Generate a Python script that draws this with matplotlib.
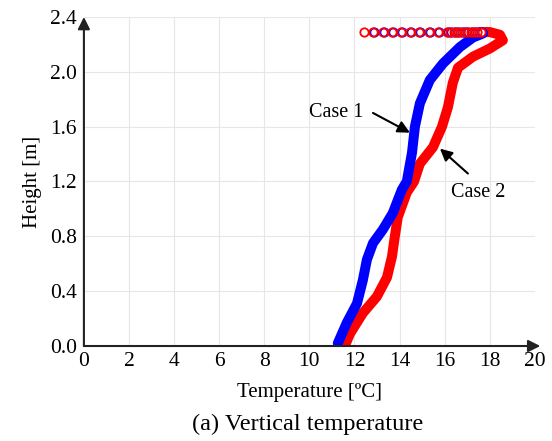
#!/usr/bin/env python3
"""
Vertical temperature profiles, Case 1 vs Case 2.
"""
import matplotlib
matplotlib.use('Agg')
import matplotlib.pyplot as plt

# ------------------------------
# Data
# ------------------------------
case1_T = [11.26, 11.66, 12.11, 12.37, 12.55, 12.82, 13.26, 13.70, 14.10, 14.32,
           14.55, 14.68, 14.9, 15.34, 15.92, 16.67, 17.25, 17.7]
case1_h = [0.02, 0.17, 0.31, 0.48, 0.63, 0.75, 0.85, 0.97, 1.14, 1.20,
           1.41, 1.60, 1.77, 1.94, 2.06, 2.18, 2.25, 2.28]

case2_T = [11.57, 11.8, 12.37, 12.99, 13.44, 13.66, 13.79, 13.92, 14.32, 14.64,
           14.9, 15.48, 15.88, 16.14, 16.36, 16.59, 17.25, 18.0, 18.58, 18.45,
           18.0, 17.56]
case2_h = [0.0, 0.09, 0.24, 0.36, 0.50, 0.65, 0.80, 0.94, 1.12, 1.20,
           1.33, 1.45, 1.60, 1.74, 1.92, 2.03, 2.11, 2.17, 2.23, 2.27,
           2.29, 2.29]

# ceiling layer points
top_h = 2.29
case1_top_T = [12.85, 13.3, 13.7, 14.1, 14.5, 14.9, 15.35, 15.75, 16.15,
               16.3, 16.45, 16.6, 16.75, 16.9, 17.05, 17.2, 17.35, 17.5, 17.65]
case2_top_T = [12.4, 12.8, 13.25, 13.65, 14.05, 14.45, 14.85, 15.3, 15.7, 16.1,
               16.25, 16.4, 16.55, 16.7, 16.85, 17.0, 17.15, 17.3, 17.45, 17.6]

xticks = [0, 2, 4, 6, 8, 10, 12, 14, 16, 18, 20]
yticks = [0.0, 0.4, 0.8, 1.2, 1.6, 2.0, 2.4]

plt.rcParams['font.family'] = ['Liberation Serif', 'DejaVu Serif']

fig = plt.figure(figsize=(5.52, 4.41), dpi=100)
ax = fig.add_axes([0.152, 0.2154, 0.817, 0.7461])

ax.plot(case1_T, case1_h, color='#0000ff', lw=7.2, solid_capstyle='round',
        solid_joinstyle='round', zorder=3)
ax.plot(case2_T, case2_h, color='#ff0000', lw=7.2, solid_capstyle='round',
        solid_joinstyle='round', zorder=2)
ax.plot(case1_top_T, [top_h] * len(case1_top_T), 'o', ms=6, mfc='white',
        mec='#0000ff', mew=1.3, zorder=4)
ax.plot(case2_top_T, [top_h] * len(case2_top_T), 'o', ms=6, mfc='none',
        mec='#ff0000', mew=1.3, zorder=5)

ax.set_xlim(0, 20)
ax.set_ylim(0, 2.4)
ax.set_xticks(xticks)
ax.set_yticks(yticks)
ax.set_yticklabels([f'{v:.1f}' for v in yticks])
ax.tick_params(length=0, labelsize=15.5)
ax.tick_params(axis='x', pad=4)
ax.tick_params(axis='y', pad=5)
ax.grid(True, color='#e6e6e6', lw=0.8)
for s in ax.spines.values():
    s.set_visible(False)

# axes with arrow heads
ax.annotate('', xy=(1.012, 0), xytext=(0, 0), xycoords='axes fraction',
            arrowprops=dict(arrowstyle='-|>', color='#222222', lw=1.5,
                            mutation_scale=18, shrinkA=0, shrinkB=0))
ax.annotate('', xy=(0, 1.0), xytext=(0, 0), xycoords='axes fraction',
            arrowprops=dict(arrowstyle='-|>', color='#222222', lw=1.5,
                            mutation_scale=18, shrinkA=0, shrinkB=0))

# labels with pointer arrows
ax.text(11.2, 1.70, 'Case 1', ha='center', va='center', fontsize=14.5)
ax.annotate('', xy=(14.46, 1.556), xytext=(12.82, 1.70),
            arrowprops=dict(arrowstyle='-|>', color='black', lw=1.5,
                            mutation_scale=18, shrinkA=0, shrinkB=0))
ax.text(17.5, 1.12, 'Case 2', ha='center', va='center', fontsize=14.5)
ax.annotate('', xy=(15.79, 1.44), xytext=(17.03, 1.258),
            arrowprops=dict(arrowstyle='-|>', color='black', lw=1.5,
                            mutation_scale=18, shrinkA=0, shrinkB=0))

ax.set_xlabel('Temperature [ºC]', fontsize=15, labelpad=9)
ax.set_ylabel('Height [m]', fontsize=15, labelpad=6)
fig.text(0.558, 0.037, '(a) Vertical temperature', ha='center', va='center',
         fontsize=17.5)

fig.savefig('out.png', dpi=100)
plt.close(fig)
